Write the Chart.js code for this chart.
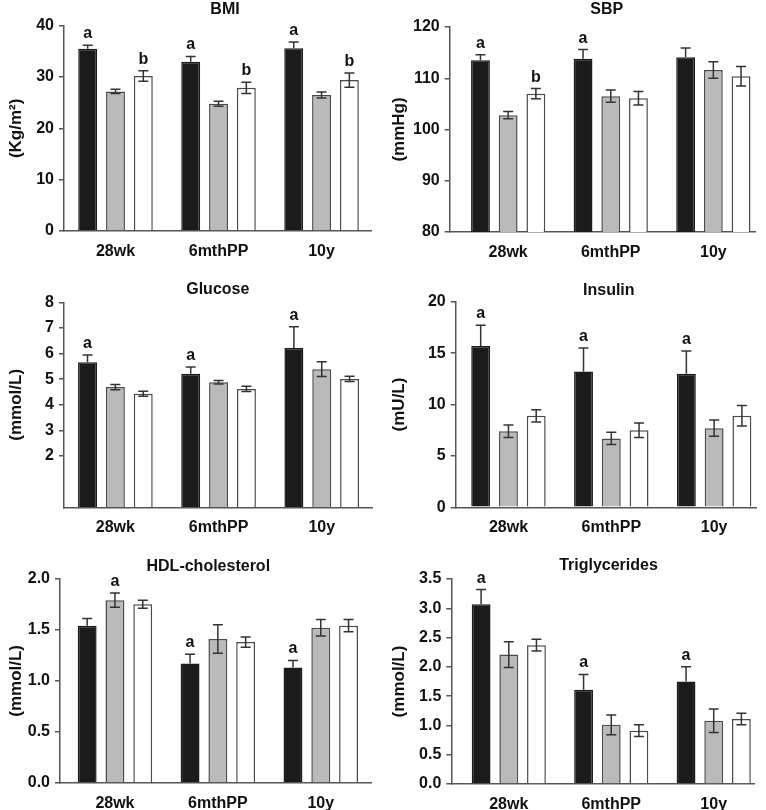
<!DOCTYPE html>
<html><head><meta charset="utf-8">
<script src="https://cdn.jsdelivr.net/npm/chart.js@4.4.1/dist/chart.umd.min.js"></script>
<style>
html,body{margin:0;padding:0;background:#fff;}
#wrap{position:relative;width:766px;height:810px;overflow:hidden;}
.panel{position:absolute;width:383px;height:270px;}
.panel canvas{display:block;}
</style></head><body>
<div id="wrap">
<div class="panel" style="left:0;top:0"><canvas id="c0" width="383" height="270"></canvas></div>
<div class="panel" style="left:383px;top:0"><canvas id="c1" width="383" height="270"></canvas></div>
<div class="panel" style="left:0;top:270px"><canvas id="c2" width="383" height="270"></canvas></div>
<div class="panel" style="left:383px;top:270px"><canvas id="c3" width="383" height="270"></canvas></div>
<div class="panel" style="left:0;top:540px"><canvas id="c4" width="383" height="270"></canvas></div>
<div class="panel" style="left:383px;top:540px"><canvas id="c5" width="383" height="270"></canvas></div>
</div>
<script>
// ---------- data ----------
const categories = ['28wk', '6mthPP', '10y'];
const seriesNames = ['Group 1', 'Group 2', 'Group 3'];

const bmiBlack = [35.5, 33.0, 35.6];
const bmiBlackErr = [0.7, 1.0, 1.2];
const bmiGray = [27.2, 24.8, 26.5];
const bmiGrayErr = [0.4, 0.5, 0.6];
const bmiWhite = [30.2, 27.9, 29.4];
const bmiWhiteErr = [1.0, 1.1, 1.4];
const bmiLetters = [['a', 'a', 'a'], ['', '', ''], ['b', 'b', 'b']];
const bmiTickLabels = ['0', '10', '20', '30', '40'];

const sbpBlack = [113.5, 113.8, 114.1];
const sbpBlackErr = [1.1, 1.8, 1.8];
const sbpGray = [102.8, 106.5, 111.6];
const sbpGrayErr = [0.7, 1.2, 1.6];
const sbpWhite = [107.0, 106.1, 110.4];
const sbpWhiteErr = [1.0, 1.3, 1.9];
const sbpLetters = [['a', 'a', ''], ['', '', ''], ['b', '', '']];
const sbpTickLabels = ['80', '90', '100', '110', '120'];

const gluBlack = [5.66, 5.21, 6.22];
const gluBlackErr = [0.28, 0.27, 0.83];
const gluGray = [4.69, 4.88, 5.39];
const gluGrayErr = [0.10, 0.07, 0.29];
const gluWhite = [4.43, 4.62, 5.01];
const gluWhiteErr = [0.10, 0.10, 0.10];
const gluLetters = [['a', 'a', 'a'], ['', '', ''], ['', '', '']];
const gluTickLabels = ['2', '3', '4', '5', '6', '7', '8'];

const insBlack = [15.7, 13.2, 13.0];
const insBlackErr = [2.0, 2.3, 2.2];
const insGray = [7.4, 6.7, 7.7];
const insGrayErr = [0.6, 0.6, 0.8];
const insWhite = [8.9, 7.5, 8.9];
const insWhiteErr = [0.6, 0.7, 1.0];
const insLetters = [['a', 'a', 'a'], ['', '', ''], ['', '', '']];
const insTickLabels = ['0', '5', '10', '15', '20'];

const hdlBlack = [1.54, 1.17, 1.13];
const hdlBlackErr = [0.07, 0.09, 0.07];
const hdlGray = [1.79, 1.41, 1.52];
const hdlGrayErr = [0.07, 0.14, 0.08];
const hdlWhite = [1.75, 1.38, 1.54];
const hdlWhiteErr = [0.04, 0.05, 0.06];
const hdlLetters = [['', 'a', 'a'], ['a', '', ''], ['', '', '']];
const hdlTickLabels = ['0.0', '0.5', '1.0', '1.5', '2.0'];

const tgBlack = [3.07, 1.61, 1.75];
const tgBlackErr = [0.25, 0.26, 0.25];
const tgGray = [2.21, 1.01, 1.08];
const tgGrayErr = [0.22, 0.17, 0.20];
const tgWhite = [2.37, 0.91, 1.11];
const tgWhiteErr = [0.10, 0.10, 0.10];
const tgLetters = [['a', 'a', 'a'], ['', '', ''], ['', '', '']];
const tgTickLabels = ['0.0', '0.5', '1.0', '1.5', '2.0', '2.5', '3.0', '3.5'];

// ---------- styling / layout ----------
const FONT = '"Liberation Sans", Arial, Helvetica, sans-serif';
Chart.defaults.font.family = FONT;
const AXIS = '#555555';
const barStyles = [
  { bg: '#1b1b1b', border: '#1b1b1b', lowerErr: false },
  { bg: '#bababa', border: '#4a4a4a', lowerErr: true },
  { bg: '#ffffff', border: '#4a4a4a', lowerErr: true }
];

const panels = [
  { id: 'c0', title: 'BMI', yTitle: '(Kg/m\u00B2)', means: [bmiBlack, bmiGray, bmiWhite], errs: [bmiBlackErr, bmiGrayErr, bmiWhiteErr],
    letters: bmiLetters, tickLabels: bmiTickLabels, yMin: 0, yMax: 40,
    box: { left: 64, right: 371.7, top: 25.7, bottom: 231 }, xRange: [-0.5, 2.487], titlePos: [225, 9.5] },
  { id: 'c1', title: 'SBP', yTitle: '(mmHg)', means: [sbpBlack, sbpGray, sbpWhite], errs: [sbpBlackErr, sbpGrayErr, sbpWhiteErr],
    letters: sbpLetters, tickLabels: sbpTickLabels, yMin: 80, yMax: 120,
    box: { left: 66.7, right: 372.7, top: 27, bottom: 232 }, xRange: [-0.570, 2.413], titlePos: [223.7, 9.5] },
  { id: 'c2', title: 'Glucose', yTitle: '(mmol/L)', means: [gluBlack, gluGray, gluWhite], errs: [gluBlackErr, gluGrayErr, gluWhiteErr],
    letters: gluLetters, tickLabels: gluTickLabels, yMin: 0, yMax: 8,
    box: { left: 64, right: 372.3, top: 32.3, bottom: 237.3 }, xRange: [-0.498, 2.49], titlePos: [217.8, 20] },
  { id: 'c3', title: 'Insulin', yTitle: '(mU/L)', means: [insBlack, insGray, insWhite], errs: [insBlackErr, insGrayErr, insWhiteErr],
    letters: insLetters, tickLabels: insTickLabels, yMin: 0, yMax: 20,
    box: { left: 72.7, right: 373.3, top: 31.7, bottom: 237.3 }, xRange: [-0.513, 2.41], titlePos: [225.8, 20.7] },
  { id: 'c4', title: 'HDL-cholesterol', yTitle: '(mmol/L)', means: [hdlBlack, hdlGray, hdlWhite], errs: [hdlBlackErr, hdlGrayErr, hdlWhiteErr],
    letters: hdlLetters, tickLabels: hdlTickLabels, yMin: 0, yMax: 2,
    box: { left: 60, right: 371.7, top: 38.7, bottom: 243 }, xRange: [-0.534, 2.495], titlePos: [208.3, 26.7] },
  { id: 'c5', title: 'Triglycerides', yTitle: '(mmol/L)', means: [tgBlack, tgGray, tgWhite], errs: [tgBlackErr, tgGrayErr, tgWhiteErr],
    letters: tgLetters, tickLabels: tgTickLabels, yMin: 0, yMax: 3.5,
    box: { left: 68.3, right: 371.7, top: 39, bottom: 244 }, xRange: [-0.561, 2.40], titlePos: [225.5, 26] }
];

function makeChart(p) {
  const canvas = document.getElementById(p.id);
  const W = canvas.width, H = canvas.height;
  const datasets = p.means.map((arr, di) => ({
    label: seriesNames[di],
    data: arr.map((v, i) => ({ x: i, y: v })),
    backgroundColor: barStyles[di].bg,
    borderColor: barStyles[di].border,
    borderWidth: 1.5,
    categoryPercentage: 0.81,
    barPercentage: 0.68
  }));

  const annot = {
    id: 'annot_' + p.id,
    afterDatasetsDraw(chart) {
      const ctx = chart.ctx, ys = chart.scales.y;
      p.means.forEach((arr, di) => {
        const meta = chart.getDatasetMeta(di);
        arr.forEach((v, i) => {
          const bar = meta.data[i];
          const x = bar.x;
          const e = p.errs[di][i];
          const yt = ys.getPixelForValue(v + e);
          const yb = ys.getPixelForValue(v - e);
          const yv = ys.getPixelForValue(v);
          ctx.save();
          ctx.strokeStyle = '#333333';
          ctx.lineWidth = 1.5;
          ctx.beginPath();
          ctx.moveTo(x, yt);
          ctx.lineTo(x, barStyles[di].lowerErr ? yb : yv);
          ctx.moveTo(x - 5, yt); ctx.lineTo(x + 5, yt);
          if (barStyles[di].lowerErr) { ctx.moveTo(x - 5, yb); ctx.lineTo(x + 5, yb); }
          ctx.stroke();
          const L = p.letters[di][i];
          if (L) {
            ctx.fillStyle = '#111111';
            ctx.font = 'bold 16px ' + FONT;
            ctx.textAlign = 'center';
            ctx.textBaseline = 'alphabetic';
            ctx.fillText(L, x, yt - 7);
          }
          ctx.restore();
        });
      });
    },
    afterDraw(chart) {
      const ctx = chart.ctx;
      ctx.save();
      ctx.fillStyle = '#111111';
      ctx.font = 'bold 16px ' + FONT;
      ctx.textAlign = 'center';
      ctx.textBaseline = 'middle';
      ctx.fillText(p.title, p.titlePos[0], p.titlePos[1]);
      ctx.restore();
    }
  };

  return new Chart(canvas, {
    type: 'bar',
    data: { datasets },
    options: {
      responsive: false,
      animation: false,
      layout: { padding: { left: 0, top: p.box.top, right: W - p.box.right, bottom: 0 } },
      plugins: { legend: { display: false }, tooltip: { enabled: false }, title: { display: false } },
      scales: {
        x: {
          type: 'linear', min: p.xRange[0], max: p.xRange[1], bounds: 'data', offset: false,
          grid: { display: false, offset: false },
          border: { display: true, color: AXIS, width: 1.5 },
          ticks: {
            padding: 3, color: '#111111', font: { size: 16, weight: 'bold' },
            autoSkip: false, maxRotation: 0, includeBounds: false,
            callback: (v, i) => categories[i]
          },
          afterBuildTicks: s => { s.ticks = categories.map((c, i) => ({ value: i })); },
          afterFit: s => { s.height = H - p.box.bottom; }
        },
        y: {
          min: p.yMin, max: p.yMax, bounds: 'data',
          grid: { drawOnChartArea: false, drawTicks: true, tickLength: 5, color: AXIS, lineWidth: 1.5 },
          border: { display: true, color: AXIS, width: 1.5 },
          ticks: {
            padding: 5, color: '#111111', font: { size: 16, weight: 'bold' }, autoSkip: false,
            callback: (v, i) => p.tickLabels[i]
          },
          afterBuildTicks: s => { s.ticks = p.tickLabels.map(t => ({ value: parseFloat(t) })); },
          title: { display: true, text: p.yTitle, color: '#111111', font: { size: 17, weight: 'bold' }, padding: { top: 6, bottom: 0 } },
          afterFit: s => { s.width = p.box.left; }
        }
      }
    },
    plugins: [annot]
  });
}

panels.forEach(makeChart);
</script>
</body></html>
